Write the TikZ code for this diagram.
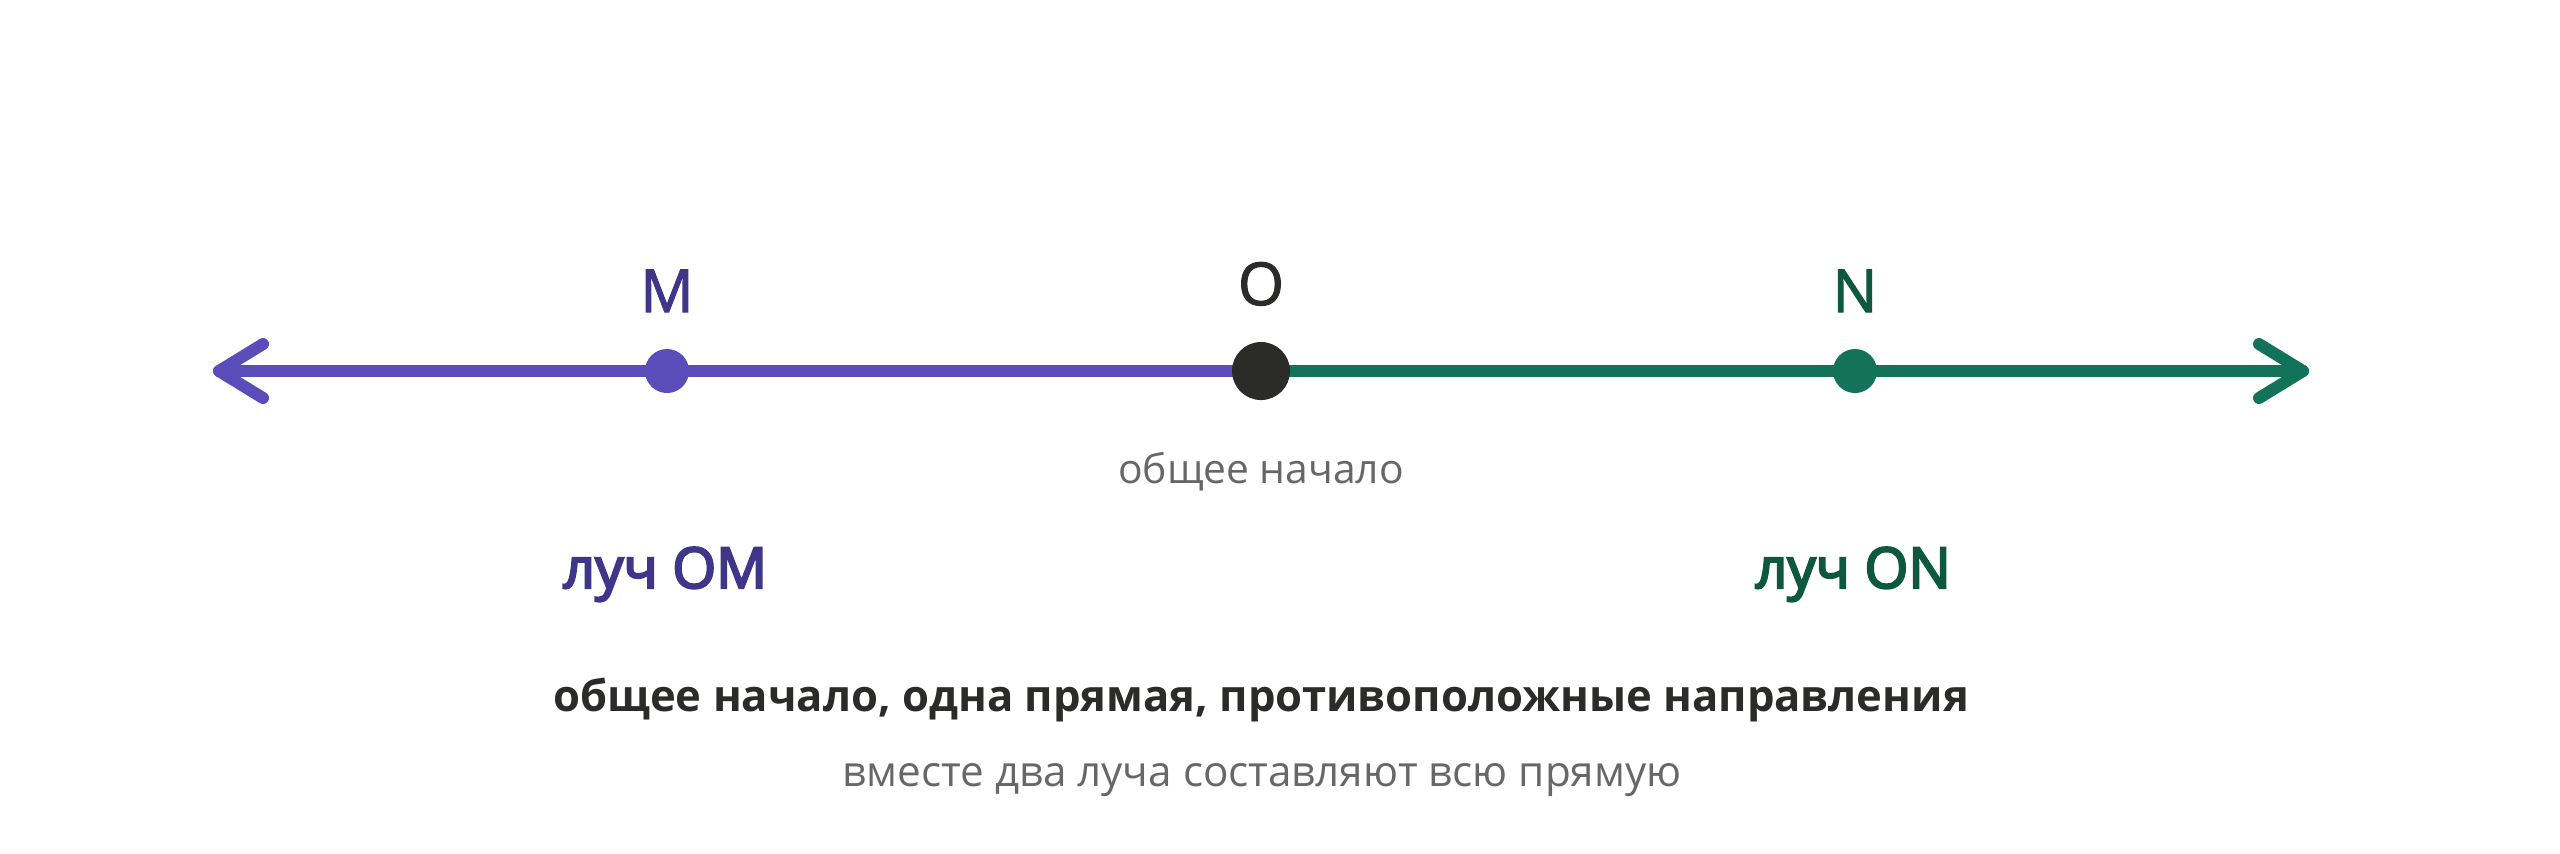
\documentclass[tikz,border=0pt]{standalone}
\usepackage{fontspec}
\setmainfont{Open Sans}
\newfontfamily\semifont[FakeBold=4]{Open Sans}
\newfontfamily\medfont[FakeBold=2]{Open Sans}
\usetikzlibrary{positioning}
\usetikzlibrary{calc}
\definecolor{raypurple}{HTML}{5A4DB9}
\definecolor{labpurple}{HTML}{3F3589}
\definecolor{raygreen}{HTML}{13735A}
\definecolor{labgreen}{HTML}{0E5840}
\definecolor{origindot}{HTML}{2B2B2A}
\definecolor{notegrey}{HTML}{676767}
\tikzstyle{ray}=[line width=3.4pt, line cap=round, line join=round]
\tikzstyle{pointdot}=[circle, inner sep=0pt, minimum size=0.44cm]
\tikzstyle{origindotst}=[circle, inner sep=0pt, minimum size=0.58cm, fill=origindot]
\tikzstyle{letter}=[anchor=base, inner sep=0pt, font=\medfont\fontsize{16.8}{20}\selectfont]
\tikzstyle{raylabel}=[anchor=base, inner sep=0pt, font=\semifont\fontsize{16}{19}\selectfont]
\tikzstyle{note}=[anchor=base, inner sep=0pt, text=notegrey, font=\fontsize{11.6}{14}\selectfont]

\begin{document}
\begin{tikzpicture}[x=0.01cm, y=-0.01cm]

  \useasboundingbox (0,0) rectangle (2560,853);

  % line ends
  \coordinate (tipL) at (219,371);
  \coordinate (tipR) at (2303,371);

  % the two rays
  \draw[ray, raypurple] (1261,371) -- (tipL);
  \draw[ray, raypurple] ($(tipL)+(44,-27)$) -- (tipL) -- ($(tipL)+(44,27)$);
  \draw[ray, raygreen] (1261,371) -- (tipR);
  \draw[ray, raygreen] ($(tipR)+(-44,-27)$) -- (tipR) -- ($(tipR)+(-44,27)$);

  % points
  \foreach \x/\name/\col in {667/M/raypurple, 1855/N/raygreen}
         \node[pointdot, fill=\col] (\name) at (\x,371) {};
  \node[origindotst] (O) at (1261,371) {};

  \foreach \name/\dy/\col in {M/59/labpurple, O/66/origindot, N/59/labgreen}
         \node[letter, text=\col] (lab\name) at ($(\name)+(0,-\dy)$) {\name};

  \node[raylabel, text=labpurple] (rayOM) at (665,588) {луч OM};
  \node[raylabel, text=labgreen] (rayON) at (1853,588) {луч ON};

  \node[note] (start) at (1261,483) {общее начало};

  \node[anchor=base, inner sep=0pt, text=origindot, font=\bfseries\fontsize{12.4}{15}\selectfont] (summary) at (1261,711) {общее начало, одна прямая, противоположные направления};
  \node[note, font=\fontsize{12}{14}\selectfont] (whole) at (1262,786) {вместе два луча составляют всю прямую};

\end{tikzpicture}
\end{document}
